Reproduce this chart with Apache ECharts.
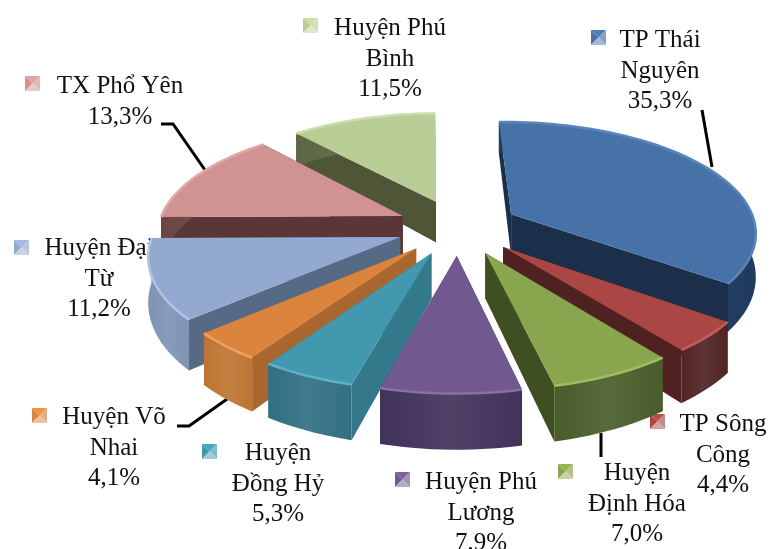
<!DOCTYPE html>
<html>
<head>
<meta charset="utf-8">
<style>html,body{margin:0;padding:0;background:#fff;overflow:hidden}#main{width:771px;height:549px}</style>
<script src="https://cdn.jsdelivr.net/npm/echarts@6/dist/echarts.min.js"></script>
</head>
<body>
<div id="main"></div>
<script>
var names = ['TP Thái\nNguyên', 'TP Sông\nCông', 'Huyện\nĐịnh Hóa', 'Huyện Phú\nLương', 'Huyện\nĐồng Hỷ', 'Huyện Võ\nNhai', 'Huyện Đại\nTừ', 'TX Phổ Yên', 'Huyện Phú\nBình'];
var shares = [35.3, 4.4, 7.0, 7.9, 5.3, 4.1, 11.2, 13.3, 11.5];

// mau: mat tren, vanh sang, thanh ben, mat ngoai
var topColors = ['#4672a8', '#aa4643', '#89a54e', '#71588f', '#4198af', '#db843d', '#93a9cf', '#d19392', '#b9cd96'];
var rimColors = ['#5a86bc', '#c25e5b', '#a0bc64', '#8a70a8', '#5cb2c8', '#f0a060', '#b0c4e6', '#e0a8a6', '#ccdeaa'];
var sideColors = ['#1b2f4b', '#4f2120', '#3f4f22', '#3c2e54', '#33788b', '#a9662e', '#566a85', '#5a3737', '#4e5637'];
var wallColors = ['#1f3a5c', '#512423', '#4a5c2a', '#41325a', '#316f82', '#be7432', '#7f93b4', '#6b4443', '#5c6642'];

// vi tri nhan: tam khoi chu, o mau
var labelPos = [[660, 71], [723, 455], [637, 504], [481, 513], [278, 484], [114, 448], [99, 279], [120, 102], [390, 59]];
var keyPos = [[591, 30], [650, 414], [558, 464], [395, 472], [202, 444], [32, 408], [14, 240], [25, 76], [303, 18]];
var leaderLines = [
    [[702, 110], [712, 167]],
    [[161, 124], [173, 124], [205, 170]],
    [[601, 433], [601, 457]],
    [[177, 426], [189, 426], [230, 397]]
];

var cx = 458, cy = 227;     // tam banh
var radius = 245;
var explode = 61;
var tilt = 0.46;            // ty le truc y
var persp = 0.0006;         // phoi canh
var depth = 43, depthPersp = 0.001;
var startAngle = -1.2;

function rad(d) { return d * Math.PI / 180; }

function project(u, v, down) {
    var s = 1 + persp * v;
    return [cx + u * s, cy + tilt * v * s + (down ? depth * (1 + depthPersp * v) : 0)];
}

function sliceAngles(i) {
    var total = shares.reduce(function (a, b) { return a + b; }, 0);
    var before = shares.slice(0, i).reduce(function (a, b) { return a + b; }, 0);
    var a0 = startAngle + before / total * 360;
    return [a0, a0 + shares[i] / total * 360];
}

function renderSlice(params, api) {
    var i = params.dataIndex;
    var ang = sliceAngles(i);
    var mid = rad((ang[0] + ang[1]) / 2);
    var ex = explode * Math.sin(mid), ev = -explode * Math.cos(mid);
    var order = Math.round((1 - Math.cos(mid)) * 100) * 10;

    var rimTop = [], rimBottom = [];
    for (var a = ang[0]; ; a += 2) {
        var d = rad(Math.min(a, ang[1]));
        var u = ex + radius * Math.sin(d), v = ev - radius * Math.cos(d);
        rimTop.push(project(u, v, false));
        rimBottom.push(project(u, v, true));
        if (a >= ang[1]) break;
    }
    var apexTop = project(ex, ev, false), apexBottom = project(ex, ev, true);
    var last = rimTop.length - 1;

    var wallFill = new echarts.graphic.LinearGradient(0, 0, 1, 0, [
        {offset: 0, color: wallColors[i]},
        {offset: 0.5, color: echarts.color.lift(wallColors[i], 0.08)},
        {offset: 1, color: wallColors[i]}
    ]);

    return {
        type: 'group',
        children: [
            {type: 'polygon', z2: order + 1, shape: {points: [apexTop, rimTop[0], rimBottom[0], apexBottom]}, style: {fill: sideColors[i]}},
            {type: 'polygon', z2: order + 1, shape: {points: [apexTop, rimTop[last], rimBottom[last], apexBottom]}, style: {fill: sideColors[i]}},
            {type: 'polygon', z2: order + 2, shape: {points: rimTop.concat(rimBottom.slice().reverse())}, style: {fill: wallFill}},
            {type: 'polygon', z2: order + 3, shape: {points: [apexTop].concat(rimTop)}, style: {fill: topColors[i]}},
            {type: 'polyline', z2: order + 4, shape: {points: rimTop}, style: {fill: null, stroke: rimColors[i], lineWidth: 2.5}}
        ]
    };
}

function percentText(v) {
    return v.toFixed(1).replace('.', ',') + '%';
}

function keyShapes(i) {
    var x = keyPos[i][0], y = keyPos[i][1], w = 15;
    var c = [x + w / 2, y + w / 2];
    var tl = [x, y], tr = [x + w, y], br = [x + w, y + w], bl = [x, y + w];
    var base = topColors[i];
    return [
        {type: 'polygon', shape: {points: [tl, tr, c]}, style: {fill: echarts.color.lift(base, -0.1)}},
        {type: 'polygon', shape: {points: [tl, bl, c]}, style: {fill: base}},
        {type: 'polygon', shape: {points: [tr, br, c]}, style: {fill: echarts.color.lift(base, 0.35)}},
        {type: 'polygon', shape: {points: [bl, br, c]}, style: {fill: echarts.color.lift(base, 0.5)}}
    ];
}

var graphics = [];
names.forEach(function (name, i) {
    graphics = graphics.concat(keyShapes(i));
    graphics.push({
        type: 'text',
        x: labelPos[i][0],
        y: labelPos[i][1],
        style: {
            text: name + '\n' + percentText(shares[i]),
            fontFamily: '"Liberation Serif"',
            fontSize: 25,
            lineHeight: 30.5,
            fill: '#111',
            align: 'center',
            verticalAlign: 'middle'
        }
    });
});
leaderLines.forEach(function (pts) {
    graphics.push({type: 'polyline', shape: {points: pts}, style: {fill: null, stroke: '#000', lineWidth: 3}});
});

var myChart = echarts.init(document.getElementById('main'), null, {renderer: 'canvas'});
myChart.setOption({
    backgroundColor: '#fff',
    animation: false,
    graphic: {elements: graphics},
    series: [{
        type: 'custom',
        coordinateSystem: 'none',
        silent: true,
        renderItem: renderSlice,
        data: shares
    }]
});
</script>
</body>
</html>
